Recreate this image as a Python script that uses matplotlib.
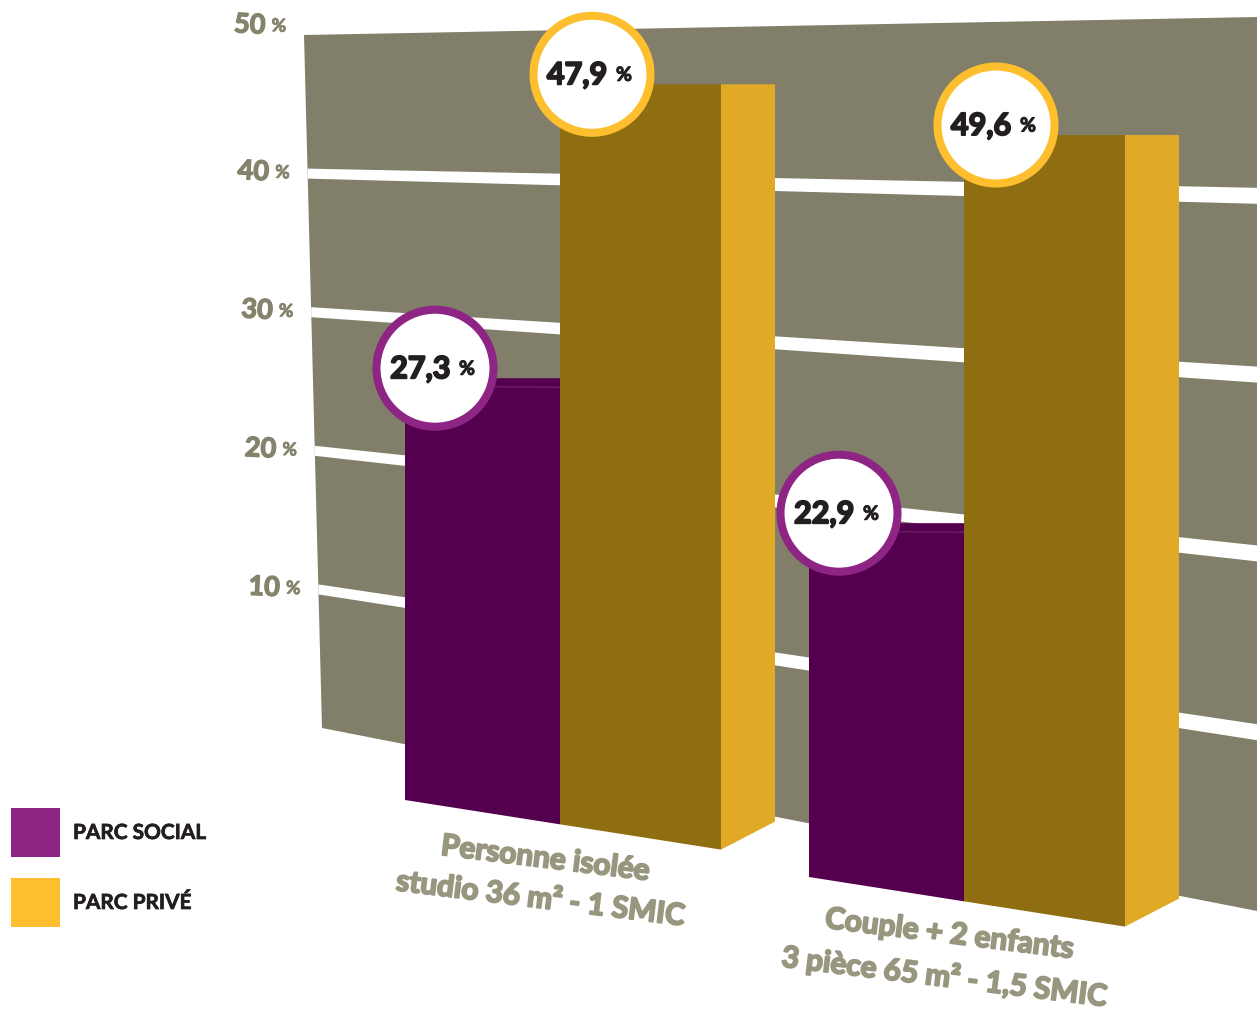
# perspective "3D" bar chart: social vs private housing share
import matplotlib.pyplot as plt
import matplotlib.patheffects as pe
from matplotlib.patches import Polygon, Circle, Rectangle

categories = ["Personne isolée\nstudio 36 m² - 1 SMIC",
              "Couple + 2 enfants\n3 pièce 65 m² - 1,5 SMIC"]
series = ["PARC SOCIAL", "PARC PRIVÉ"]
social = [27.3, 22.9]
prive = [47.9, 49.6]
yticks = [10, 20, 30, 40, 50]

wall_col = '#817f69'
social_col, social_ring = '#55004f', '#8e2585'
prive_col, prive_side, prive_ring = '#8f6e11', '#e0aa27', '#fdbf2d'
text_col = '#231f20'
tick_col = '#85836c'
cat_col = '#98967e'
FONT = ['Lato', 'DejaVu Sans']


def heavy(col, w=1.2):
    # fake a heavier weight by stroking the glyph outline
    return [pe.withStroke(linewidth=w, foreground=col)]


fig = plt.figure(figsize=(12.6, 10.15), dpi=100)
ax = fig.add_axes([0, 0, 1, 1])
ax.set_xlim(0, 1260)
ax.set_ylim(1015, 0)
ax.axis('off')

# back wall: pixel corners of the 0 % and 50 % levels on each edge
vmax = 50
left_edge = ((322, 728), (304, 35))
right_edge = ((1257, 911), (1257, 17))


def wall_pt(u, v):
    f = v / vmax
    (xl0, yl0), (xl1, yl1) = left_edge
    (xr0, yr0), (xr1, yr1) = right_edge
    xl, yl = xl0 + (xl1 - xl0) * f, yl0 + (yl1 - yl0) * f
    xr, yr = xr0 + (xr1 - xr0) * f, yr0 + (yr1 - yr0) * f
    return xl + (xr - xl) * u, yl + (yr - yl) * u


ax.add_patch(Polygon([wall_pt(0, 0), wall_pt(1, 0), wall_pt(1, vmax), wall_pt(0, vmax)],
                     closed=True, fc=wall_col, ec='none', zorder=1))
for v in yticks:
    xl, yl = wall_pt(0, v)
    xr, yr = wall_pt(1, v)
    if v < vmax:
        ax.add_patch(Polygon([(xl, yl - 5), (xr, yr - 8), (xr, yr + 8), (xl, yl + 5)],
                             closed=True, fc='white', ec='none', zorder=2))
        ty = yl - 2
    else:
        ty = yl - 10   # top label sits above the wall edge
    ax.text(xl - 38, ty, str(v), ha='right', va='center', fontsize=19.5,
            fontweight='bold', color=tick_col, family=FONT, rotation=-3,
            path_effects=heavy(tick_col, 1.0))
    ax.text(xl - 33, ty + 1, '%', ha='left', va='center', fontsize=13,
            fontweight='bold', color=tick_col, family=FONT, rotation=-3,
            path_effects=heavy(tick_col, 0.6))

# bars (front faces scale k px per %)
k = 15.45
group_x = [405, 809]
group_base = [800, 877]
slope = 0.157
w_soc, w_pri, w_side, rise = 155, 161, 54, 28


def label_circle(cx, cy, val, ring):
    ax.add_patch(Circle((cx, cy), 58.5, fc='white', ec=ring, lw=5.8, zorder=10))
    ax.text(cx + 15, cy + 1, f"{val:.1f}".replace('.', ','), ha='right', va='center',
            fontsize=22, fontweight='bold', color=text_col, family=FONT, zorder=11,
            path_effects=heavy(text_col, 1.4))
    ax.text(cx + 24, cy + 1, '%', ha='left', va='center', fontsize=14,
            fontweight='bold', color=text_col, family=FONT, zorder=11,
            path_effects=heavy(text_col, 0.8))


for i in range(len(categories)):
    x0 = group_x[i]

    def base(x):
        return group_base[i] + slope * (x - x0)

    # social
    xl, xr = x0, x0 + w_soc
    top_s = base(xl) - social[i] * k
    ax.add_patch(Polygon([(xl, base(xl)), (xr, base(xr)), (xr, top_s), (xl, top_s)],
                         closed=True, fc=social_col, ec='none', zorder=3))
    ax.plot([xl, xr], [top_s + 8, top_s + 9], color='#6e2a68', lw=0.8, zorder=3)
    circ_s = (xl + 30, top_s - 10)

    # prive front + side
    pl, pr = xr, xr + w_pri
    top_p = base(pl) - prive[i] * k
    ax.add_patch(Polygon([(pl, base(pl)), (pr, base(pr)), (pr, top_p), (pl, top_p)],
                         closed=True, fc=prive_col, ec='none', zorder=4))
    ax.add_patch(Polygon([(pr, base(pr)), (pr + w_side, base(pr) - rise),
                          (pr + w_side, top_p), (pr, top_p)],
                         closed=True, fc=prive_side, ec='none', zorder=4))
    circ_p = (pl + 32, top_p - 10)

    label_circle(*circ_s, social[i], social_ring)
    label_circle(*circ_p, prive[i], prive_ring)

    # category label under the group
    cx = (x0 + pr) / 2 - 20
    ax.text(cx, base(cx) + 57, categories[i], rotation=-7, rotation_mode='anchor',
            ha='center', va='center', multialignment='center', fontsize=21.5,
            fontweight='bold', color=cat_col, family=FONT, linespacing=1.55,
            path_effects=heavy(cat_col, 1.4))

# legend
for j, (name, col) in enumerate(zip(series, ['#8e2585', '#fdbf2d'])):
    y = 808 + j * 70
    ax.add_patch(Rectangle((11, y), 49, 49, fc=col, ec='none'))
    ax.text(73, y + 25, name, ha='left', va='center', fontsize=15,
            fontweight='bold', color=text_col, family=FONT,
            path_effects=heavy(text_col, 0.5))

fig.savefig('out.png', dpi=100)
